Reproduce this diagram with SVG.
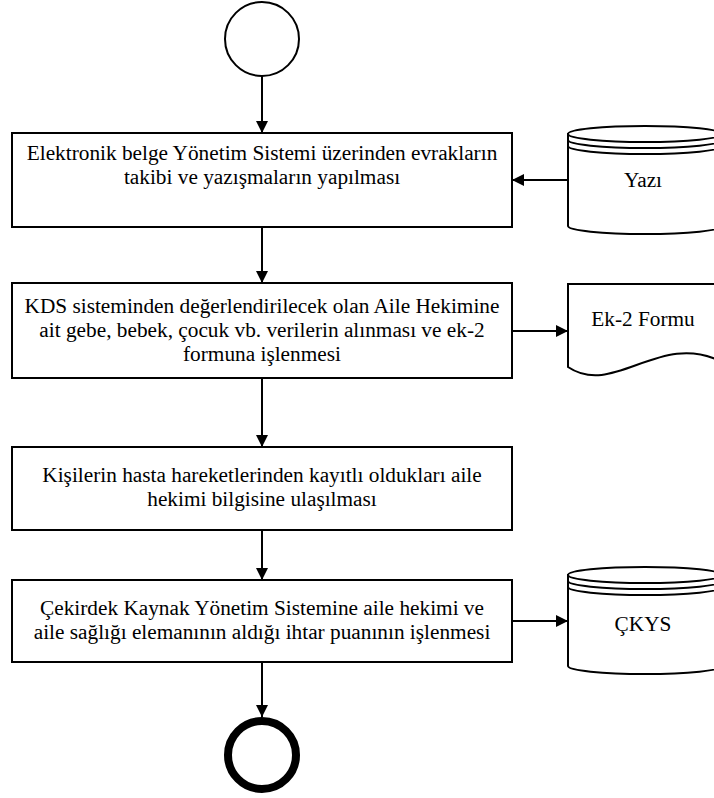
<svg xmlns="http://www.w3.org/2000/svg" width="714" height="798" viewBox="0 0 714 798">
<style>
.box{fill:#fff;stroke:#000;stroke-width:2}
.ln{fill:none;stroke:#000;stroke-width:2}
.conn{fill:none;stroke:#000;stroke-width:2;marker-end:url(#arr)}
text{font-family:"Liberation Serif","Times New Roman",serif;font-size:21.3px;fill:#000;text-anchor:middle}
</style>
<defs>
<marker id="arr" markerUnits="userSpaceOnUse" markerWidth="12" markerHeight="12" refX="12" refY="6" orient="auto">
<path d="M0,0 L12,6 L0,12 z" fill="#000"/>
</marker>
</defs>
<g id="connectors">
<line class="conn" x1="262" y1="76" x2="262" y2="133"/>
<line class="conn" x1="262" y1="227" x2="262" y2="283"/>
<line class="conn" x1="262" y1="378" x2="262" y2="447"/>
<line class="conn" x1="262" y1="530" x2="262" y2="580"/>
<line class="conn" x1="262" y1="662" x2="262" y2="717"/>
<line class="conn" x1="568" y1="180" x2="512" y2="180"/>
<line class="conn" x1="512" y1="331" x2="568" y2="331"/>
<line class="conn" x1="512" y1="621" x2="568" y2="621"/>
</g>
<g id="start">
<circle class="box" cx="262" cy="39" r="37"/>
</g>
<g id="step1">
<rect class="box" x="12" y="133" width="500" height="94"/>
<text x="262" y="160">Elektronik belge Yönetim Sistemi üzerinden evrakların</text>
<text x="262" y="184">takibi ve yazışmaların yapılması</text>
</g>
<g id="yazi">
<path class="box" d="M568,134 V226 A77,8 0 0 0 722,226 V134 Z"/>
<ellipse class="box" cx="645" cy="134" rx="77" ry="8"/>
<path class="ln" d="M568,140 A77,8 0 0 0 722,140 M568,146 A77,8 0 0 0 722,146"/>
<text x="643" y="187">Yazı</text>
</g>
<g id="step2">
<rect class="box" x="12" y="283" width="500" height="95"/>
<text x="262" y="313">KDS sisteminden değerlendirilecek olan Aile Hekimine</text>
<text x="262" y="337">ait gebe, bebek, çocuk vb. verilerin alınması ve ek-2</text>
<text x="262" y="361">formuna işlenmesi</text>
</g>
<g id="ek2">
<path class="box" d="M568,284 H722 V362 C660,330 614,398 568,367 Z"/>
<text x="643" y="326">Ek-2 Formu</text>
</g>
<g id="step3">
<rect class="box" x="12" y="447" width="500" height="83"/>
<text x="262" y="482">Kişilerin hasta hareketlerinden kayıtlı oldukları aile</text>
<text x="262" y="506">hekimi bilgisine ulaşılması</text>
</g>
<g id="step4">
<rect class="box" x="12" y="580" width="500" height="82"/>
<text x="262" y="615">Çekirdek Kaynak Yönetim Sistemine aile hekimi ve</text>
<text x="262" y="639">aile sağlığı elemanının aldığı ihtar puanının işlenmesi</text>
</g>
<g id="ckys">
<path class="box" d="M568,575 V666 A77,8 0 0 0 722,666 V575 Z"/>
<ellipse class="box" cx="645" cy="575" rx="77" ry="8"/>
<path class="ln" d="M568,581 A77,8 0 0 0 722,581 M568,587 A77,8 0 0 0 722,587"/>
<text x="643" y="631">ÇKYS</text>
</g>
<g id="end">
<circle cx="262" cy="755" r="34" fill="#fff" stroke="#000" stroke-width="8"/>
</g>
</svg>
